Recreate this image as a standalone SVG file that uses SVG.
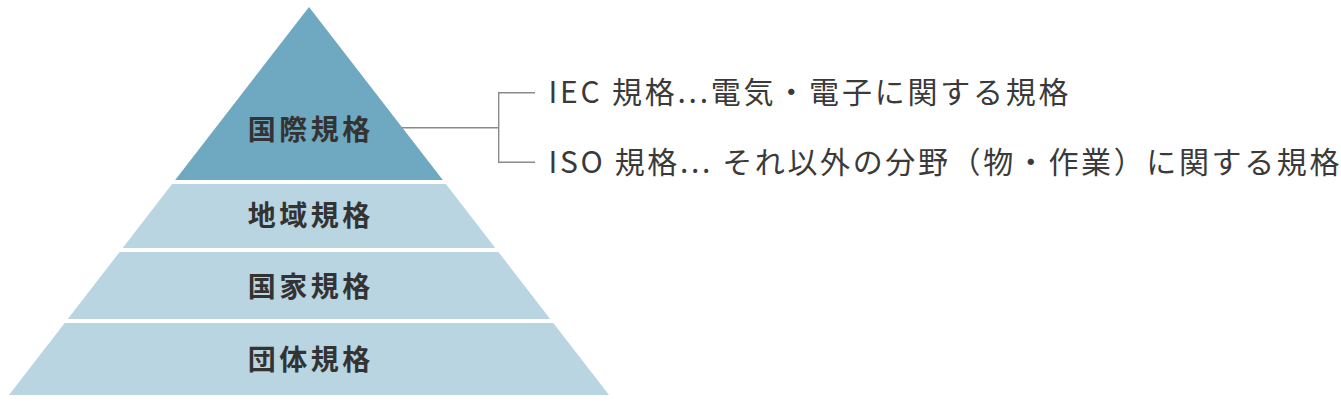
<svg xmlns="http://www.w3.org/2000/svg" width="1341" height="402" viewBox="0 0 1341 402">
  <style>
    .top { fill: #6ea8c1; }
    .tier { fill: #b8d5e1; }
    .label { font-family: "Noto Sans CJK JP", "Noto Sans", sans-serif; font-size: 28px; font-weight: 700; fill: #333333; letter-spacing: 3.5px; text-anchor: middle; }
    .desc { font-family: "Noto Sans CJK JP", "Noto Sans", sans-serif; font-size: 30px; font-weight: 400; fill: #3a3a3a; }
    .conn { fill: none; stroke: #8a8a8a; stroke-width: 1.4; }
  </style>
  <rect width="1341" height="402" fill="#ffffff"/>
  <g id="tier-international">
    <polygon class="top" points="309,7 442.8,180 175.2,180"/>
    <text class="label" x="310.8" y="140">国際規格</text>
  </g>
  <g id="tier-regional">
    <polygon class="tier" points="172.1,184 445.9,184 495.3,248 122.7,248"/>
    <text class="label" x="310.8" y="225.5">地域規格</text>
  </g>
  <g id="tier-national">
    <polygon class="tier" points="119.6,252 498.4,252 550.2,319 67.8,319"/>
    <text class="label" x="310.8" y="296.5">国家規格</text>
  </g>
  <g id="tier-organization">
    <polygon class="tier" points="64.7,323 553.3,323 609,395 9,395"/>
    <text class="label" x="310.8" y="370">団体規格</text>
  </g>
  <g id="connectors">
    <path class="conn" d="M402,127.7 H498.7 M535,92.7 H498.7 V162.3 H535"/>
  </g>
  <g id="desc-iec">
    <text class="desc" x="548.5" y="102.5" textLength="520" lengthAdjust="spacing">IEC 規格...電気・電子に関する規格</text>
  </g>
  <g id="desc-iso">
    <text class="desc" x="548.5" y="172.5" textLength="791" lengthAdjust="spacing">ISO 規格... それ以外の分野（物・作業）に関する規格</text>
  </g>
</svg>
